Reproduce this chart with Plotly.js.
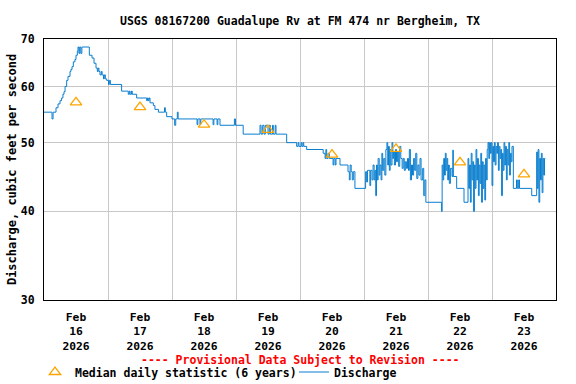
<!DOCTYPE html>
<html><head><meta charset="utf-8">
<script src="https://cdn.plot.ly/plotly-3.0.1.min.js"></script>
<style>html,body{margin:0;padding:0;background:#fff}#chart{width:576px;height:384px}</style>
</head><body><div id="chart"></div>
<script>
// Hours after 2026-02-16 00:00 (local) and 15-minute discharge (ft3/s)
const hours = [0,3.0,3.4,4.5,5.25,6.0,6.6,7.1,7.5,7.9,8.5,9.0,9.75,10.1,10.5,11.0,11.6,12.0,12.5,12.75,13.1,13.4,13.8,14.2,17.0,18.0,18.75,19.5,20.0,20.3,20.6,21.0,21.5,21.8,22.3,22.6,23.0,23.5,24.2,24.5,24.9,29.1,31.6,32.0,32.3,32.8,33.1,34.75,38.5,38.8,39.1,39.4,39.75,41.0,41.6,42.9,45.2,45.5,46.0,48.0,49.0,49.4,50.0,50.3,57.4,57.7,58.5,58.8,63.4,63.7,64.9,65.2,66.0,71.4,71.8,74.7,81.0,81.4,82.0,82.5,83.0,84.0,84.5,84.9,85.7,86.0,86.7,87.0,91.0,94.75,95.3,95.6,96.4,96.7,97.1,97.4,98.5,104.7,105.4,105.7,106.0,106.5,107.0,108.4,108.7,109.2,109.5,111.0,114.0,114.5,114.8,115.2,115.6,116.0,116.6,120.6,121.0,121.3,122.2,122.5,123.0,
123.4,123.8,124.1,124.4,124.7,125.0,125.3,125.7,126.0,126.4,126.7,127.0,127.4,127.8,128.2,
128.6,128.9,129.2,129.5,129.8,130.1,130.5,130.8,
131.1,131.4,131.8,132.2,132.6,133.0,133.4,133.8,
134.3,134.7,135.1,135.5,135.9,136.3,
136.7,137.0,137.4,137.8,138.2,138.6,139.0,139.4,139.8,140.2,140.6,141.0,141.4,
142.0,142.4,142.8,143.2,143.6,
149.1,149.3,149.6,149.9,150.2,150.5,150.8,151.1,151.4,151.7,152.0,152.4,
153.0,153.3,153.5,154.75,157.5,
159.0,159.3,159.6,159.9,160.2,160.5,160.8,161.1,161.4,161.7,162.0,162.3,162.6,162.9,163.2,163.5,163.8,164.1,164.4,164.7,165.0,165.3,165.6,165.9,166.2,
166.5,166.8,167.1,167.4,167.7,168.0,168.3,168.6,168.9,169.2,169.5,169.8,170.1,170.4,170.7,171.0,171.3,171.6,171.9,172.2,172.5,172.8,173.1,173.4,173.7,174.0,174.3,174.6,174.9,175.2,175.5,
176.0,177.2,177.5,178.0,178.3,182.9,
184.75,185.0,185.3,185.6,185.9,186.2,186.5,186.8,187.1,187.4,187.7,188.0];
const discharge = [55.2,54.0,55.2,56.0,56.7,57.3,57.8,58.5,59.0,60.0,61.2,62.0,63.0,63.4,64.0,65.0,65.5,66.4,67.3,68.2,66.8,68.2,66.8,68.2,66.4,65.8,64.7,63.7,63.0,63.7,63.0,62.3,63.0,62.3,61.5,62.3,61.5,61.2,60.4,61.2,60.4,59.1,58.5,59.1,58.5,59.1,58.5,57.8,57.3,57.8,57.3,57.8,56.9,56.4,55.7,55.2,56.0,55.2,54.4,54.0,52.9,54.0,55.2,54.0,53.0,54.0,53.0,54.0,53.0,54.0,53.0,54.0,52.9,54.0,52.9,51.4,52.9,51.4,52.9,51.4,52.9,51.4,52.9,51.4,52.9,51.4,52.9,51.4,50.0,49.4,50.0,49.4,50.0,49.4,50.0,49.4,48.9,48.3,47.5,48.9,47.5,48.3,47.5,46.5,47.5,46.5,47.5,46.5,45.5,44.3,46.5,45.5,44.3,45.5,43.1,45.5,44.0,45.7,43.5,45.7,44.3,
46.5,44.3,45.7,42.1,46.5,44.3,47.5,45.0,46.5,44.3,48.3,45.7,47.5,45.0,48.9,
50.0,46.5,49.4,45.7,48.9,46.5,50.0,47.5,
48.5,46.5,48.9,47.0,48.5,46.3,49.4,47.5,
46.0,47.5,45.7,47.0,46.0,47.5,
45.7,48.9,44.3,46.5,45.0,47.5,45.7,48.3,44.5,46.5,45.0,47.5,44.3,
46.0,42.1,44.3,41.2,41.2,
40.0,46.5,44.3,47.5,45.0,48.3,45.7,47.5,44.3,46.5,43.8,46.0,
44.8,48.8,44.8,43.1,41.2,
47.5,43.1,46.5,41.2,48.3,44.3,47.0,40.0,46.5,43.1,48.9,44.3,47.5,42.1,46.5,43.8,48.3,41.2,47.0,43.1,46.5,41.5,47.5,44.3,48.9,
50.0,47.5,50.0,48.3,50.0,43.5,49.4,47.0,50.0,46.5,49.4,48.3,50.0,45.7,49.4,47.5,48.9,42.1,48.3,45.7,50.0,46.5,49.4,44.3,48.9,46.5,50.0,45.0,48.3,47.0,49.4,
43.1,44.3,43.1,44.3,43.1,42.1,
48.5,43.1,48.9,41.2,47.5,44.3,48.3,42.5,47.5,45.0,47.5,47.5];

// Median daily statistic (6 years), one value per day at noon
const medianDays = ['2026-02-16 12:00','2026-02-17 12:00','2026-02-18 12:00','2026-02-19 12:00','2026-02-20 12:00','2026-02-21 12:00','2026-02-22 12:00','2026-02-23 12:00'];
const medianValues = [57.0,56.1,53.0,52.1,48.1,49.0,46.9,45.1];

const yTicks = [30,40,50,60,70];
const yTickText = ['30','40','50','60','70'];

function toDate(h){
  const d = new Date(Date.UTC(2026,1,16) + h*3600000);
  return d.toISOString().slice(0,19).replace('T',' ');
}

const fam = '"DejaVu Sans Mono", monospace';
const font = {family: fam, size: 11.5, color: '#000', weight: 'bold'};

const traces = [
  {x: hours.map(toDate), y: discharge, type: 'scatter', mode: 'lines', name: 'Discharge',
   line: {shape: 'hv', color: '#0a7ecf', width: 1}, legend: 'legend2'},
  {x: medianDays, y: medianValues, type: 'scatter', mode: 'markers', name: 'Median daily statistic (6 years)',
   marker: {symbol: 'triangle-up-open', size: 10, color: '#ffa500', line: {width: 1.3, color: '#ffa500'}}, legend: 'legend'}
];

const layout = {
  width: 576, height: 384,
  margin: {l: 44, r: 20, t: 39, b: 84},
  paper_bgcolor: '#fff', plot_bgcolor: '#fff',
  font: font,
  title: {text: 'USGS 08167200 Guadalupe Rv at FM 474 nr Bergheim, TX', font: font,
          x: 0.5, xref: 'paper', xanchor: 'center', y: 1 - 20.5/384, yref: 'container', yanchor: 'middle'},
  xaxis: {type: 'date', range: ['2026-02-16', '2026-02-24'], tick0: '2026-02-16', dtick: 86400000,
          tickformat: '%b<br>%d<br>%Y', ticklabelmode: 'period', ticks: '', ticklabelstandoff: 6,
          showgrid: true, gridcolor: '#c8c8c8', gridwidth: 1,
          showline: true, mirror: true, linecolor: '#000', linewidth: 1, zeroline: false,
          tickfont: {family: fam, size: 11.3, color: '#000', weight: 'bold'}},
  yaxis: {type: 'log', range: [Math.log10(30), Math.log10(70)], tickvals: yTicks, ticktext: yTickText,
          ticks: '', ticklabelstandoff: 6, showgrid: true, gridcolor: '#c8c8c8', gridwidth: 1,
          showline: true, mirror: true, linecolor: '#000', linewidth: 1, zeroline: false,
          tickfont: font,
          title: {text: 'Discharge, cubic feet per second', font: {family: fam, size: 12, color: '#000', weight: 'bold'}, standoff: 1}},
  showlegend: true,
  legend: {orientation: 'h', xref: 'container', yref: 'container', x: 35/576, y: 1 - 372/384,
           xanchor: 'left', yanchor: 'middle', font: font, bgcolor: 'rgba(0,0,0,0)', borderwidth: 0},
  legend2: {orientation: 'h', xref: 'container', yref: 'container', x: 294/576, y: 1 - 372/384,
           xanchor: 'left', yanchor: 'middle', font: font, bgcolor: 'rgba(0,0,0,0)', borderwidth: 0},
  annotations: [{text: '---- Provisional Data Subject to Revision ----', xref: 'paper', yref: 'paper',
                 x: 0.5, y: -59.5/261, xanchor: 'center', yanchor: 'middle', showarrow: false,
                 font: {family: fam, size: 11.5, color: '#ff0000', weight: 'bold'}}]
};

Plotly.newPlot('chart', traces, layout, {staticPlot: true, displayModeBar: false});
</script>
</body></html>
